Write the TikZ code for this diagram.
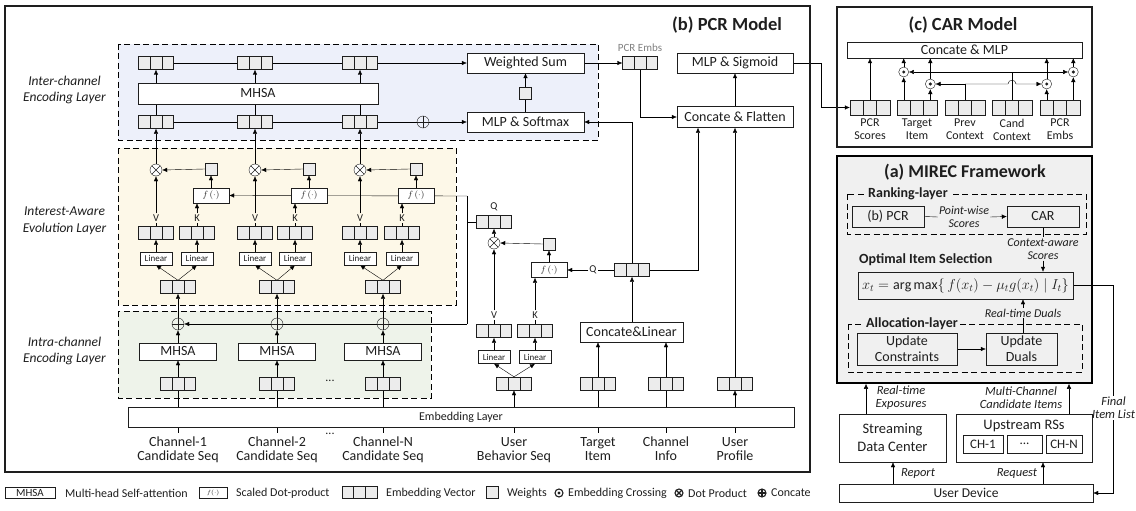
\documentclass[tikz,border=0pt]{standalone}
\usepackage{fontspec}
\setmainfont{Carlito}
\usetikzlibrary{calc,arrows.meta}
\definecolor{vecgray}{RGB}{236,236,236}
\definecolor{interbg}{RGB}{237,240,250}
\definecolor{evobg}{RGB}{253,248,232}
\definecolor{intrabg}{RGB}{238,243,234}
\definecolor{mirecbg}{RGB}{240,240,240}
\definecolor{linec}{RGB}{30,30,30}
\pgfdeclarelayer{bg}\pgfdeclarelayer{lines}\pgfsetlayers{bg,lines,main}
\newcommand{\fsz}[2]{\fontsize{#1}{#2}\selectfont}
\begin{document}
\begin{tikzpicture}[x=1pt,y=-1pt,line width=0.9pt,color=linec,
 >={Latex[length=5pt,width=4.5pt]},
 vec/.style={draw,fill=vecgray,minimum width=35pt,minimum height=13pt,inner sep=0pt,
  path picture={\draw ($(path picture bounding box.south west)!1/3!(path picture bounding box.south east)$) -- ($(path picture bounding box.north west)!1/3!(path picture bounding box.north east)$)
   ($(path picture bounding box.south west)!2/3!(path picture bounding box.south east)$) -- ($(path picture bounding box.north west)!2/3!(path picture bounding box.north east)$);}},
 cvec/.style={vec,minimum width=40pt,minimum height=15pt},
 wsq/.style={draw,fill=vecgray,minimum size=12pt,inner sep=0pt},
 fbox/.style={draw,fill=white,minimum width=36pt,minimum height=15pt,inner sep=0pt,font=\fsz{9}{10}},
 linbox/.style={draw,fill=white,minimum width=32pt,minimum height=13pt,inner sep=0pt,font=\fsz{9}{10}},
 box/.style={draw,fill=white,inner sep=0pt,font=\fsz{14}{16}},
 oplus/.style={circle,draw,minimum size=12pt,inner sep=0pt,path picture={\draw (path picture bounding box.north)--(path picture bounding box.south) (path picture bounding box.west)--(path picture bounding box.east);}},
 otimes/.style={circle,draw,fill=white,minimum size=12pt,inner sep=0pt,path picture={\draw (path picture bounding box.north west)--(path picture bounding box.south east) (path picture bounding box.south west)--(path picture bounding box.north east);}},
 odot/.style={circle,draw,fill=white,minimum size=10pt,inner sep=0pt,path picture={\fill[linec] (path picture bounding box.center) circle (1.7pt);}},
 lbl/.style={inner sep=1pt,font=\fsz{10.5}{11}},
 region/.style={draw,dash pattern=on 6pt off 3.5pt,line width=0.9pt},
 itl/.style={font=\itshape\fsz{12.5}{13},align=center,inner sep=1pt},
 leg/.style={anchor=west,inner sep=0pt,font=\fsz{12}{13}}
]
\useasboundingbox (0,0) rectangle (1136,511);

% ---------- backgrounds ----------
\begin{pgfonlayer}{bg}
\node[draw,fill=mirecbg,line width=1.6pt,minimum width=255pt,minimum height=227pt,inner sep=0pt] (mirec) at (964.5,269.5) {};
\draw[region,fill=interbg] (118,44) rectangle (598,140);
\draw[region,fill=evobg] (118,148) rectangle (456,305);
\draw[region,fill=intrabg] (118,311) rectangle (431,398);
\draw[region] (847,194) rectangle (1086,234);
\draw[region] (848,324) rectangle (1082,372);
\end{pgfonlayer}

\node[draw,line width=1.6pt,minimum width=805pt,minimum height=466pt,inner sep=0pt] (pcr) at (407.5,239) {};
\node[draw,line width=1.6pt,minimum width=255pt,minimum height=140pt,inner sep=0pt] (carbox) at (964.5,77) {};
\node[anchor=west,inner sep=0pt,font=\bfseries\fsz{18.5}{20}] (tpcr) at (672,25) {(b) PCR Model};
\node[inner sep=0pt,font=\bfseries\fsz{18.5}{20}] (tcar) at (963,25) {(c) CAR Model};
\node[inner sep=0pt,font=\bfseries\fsz{18}{20}] (tmir) at (965,172) {(a) MIREC Framework};

% ---------- left labels ----------
\node[font=\itshape\fsz{13.5}{16.5},align=center] (L1) at (64.5,90) {Inter-channel\\Encoding Layer};
\node[font=\itshape\fsz{13.5}{16.5},align=center] (L2) at (64.5,221) {Interest-Aware\\Evolution Layer};
\node[font=\itshape\fsz{13.5}{16.5},align=center] (L3) at (64.5,351) {Intra-channel\\Encoding Layer};

% ---------- inter-channel layer ----------
\foreach \i/\v in {1/156,2/255,3/360}{
  \node[vec] (t\i) at (\v,63) {};
  \node[vec] (b\i) at (\v,122) {};
}
\node[box,minimum width=240pt,minimum height=21pt] (mhsaI) at (258,93.5) {MHSA};
\node[box,minimum width=117pt,minimum height=20pt] (ws) at (525.5,63) {Weighted Sum};
\node[box,minimum width=117pt,minimum height=20pt] (mlpsm) at (525.5,122) {MLP \& Softmax};
\node[wsq] (wI) at (525.5,93) {};
\node[oplus] (opI) at (423,122) {};

% ---------- channel columns ----------
\foreach \i/\c/\v/\k/\f in {1/178/156/197/211,2/277/255/295/309,3/383/360/402/416}{
  \node[otimes] (ot\i) at (\v,170) {};
  \node[wsq] (sq\i) at (\f,169) {};
  \node[fbox] (f\i) at (\f,195.5) {$f\,(\cdot)$};
  \node[lbl] (Vl\i) at (\v,218) {V};
  \node[lbl] (Kl\i) at (\k,218) {K};
  \node[vec] (Vv\i) at (\v,233) {};
  \node[vec] (Kv\i) at (\k,233) {};
  \node[linbox] (Lv\i) at (\v,258.5) {Linear};
  \node[linbox] (Lk\i) at (\k,258.5) {Linear};
  \node[vec] (cv\i) at (\c,287) {};
  \node[oplus] (op\i) at (\c,324) {};
  \node[box,minimum width=77pt,minimum height=17pt] (mh\i) at (\c,351.5) {MHSA};
  \node[vec] (ev\i) at (\c,383.5) {};
}
\node[font=\fsz{12}{12}] (dots1) at (330,381) {...};

% ---------- user behaviour ----------
\node[vec] (qU) at (494,222) {};
\node[lbl] (qUl) at (494,207) {Q};
\node[otimes] (otU) at (494,243) {};
\node[wsq] (sqU) at (549,244) {};
\node[fbox] (fU) at (549,270) {$f\,(\cdot)$};
\node[lbl] (VlU) at (494,315) {V};
\node[lbl] (KlU) at (535,315) {K};
\node[vec] (VvU) at (494,331) {};
\node[vec] (KvU) at (535,331) {};
\node[linbox] (LvU) at (494,357) {Linear};
\node[linbox] (LkU) at (535,357) {Linear};
\node[vec] (bvU) at (514,383.5) {};

\node[vec] (qR) at (632,270) {};
\node[lbl] (qRl) at (593,270) {Q};
\node[box,minimum width=103pt,minimum height=20pt] (cl) at (631.5,332) {Concate\&Linear};
\node[vec] (pe) at (640,63) {};
\node[inner sep=0pt,font=\fsz{11}{12},text=gray] (pel) at (640,48) {PCR Embs};
\node[box,minimum width=116pt,minimum height=21pt] (cf) at (735,117) {Concate \& Flatten};
\node[box,minimum width=116pt,minimum height=20pt] (ms) at (735,63) {MLP \& Sigmoid};
\node[vec] (tv) at (598,383.5) {};
\node[vec] (civ) at (666,383.5) {};
\node[vec] (upv) at (735,383.5) {};

\node[draw,fill=white,minimum width=666pt,minimum height=20pt,inner sep=0pt,font=\fsz{12}{13}] (emb) at (461,417) {Embedding Layer};

\foreach \n/\x/\t in {lab1/178/{Channel-1\\Candidate Seq},lab2/277/{Channel-2\\Candidate Seq},lab3/383/{Channel-N\\Candidate Seq},lab4/514/{User\\Behavior Seq},lab5/598/{Target\\Item},lab6/666/{Channel\\Info},lab7/735/{User\\Profile}}{
  \node[align=center,anchor=north,inner sep=0pt,font=\fsz{14}{14}] (\n) at (\x,437) {\t};
}
\node[font=\fsz{12}{12}] (dots2) at (330,434) {...};

% ---------- CAR ----------
\node[draw,minimum width=235pt,minimum height=16pt,inner sep=0pt,font=\fsz{14}{15}] (cm) at (964.5,50) {Concate \& MLP};
\foreach \n/\x/\t in {ps/870/{PCR\\Scores},ti/917/{Target\\Item},pc/965/{Prev\\Context},cc/1012/{Cand\\Context},pb/1060/{PCR\\Embs}}{
  \node[cvec] (\n) at (\x,107.5) {};
  \node[font=\fsz{12}{12.5},align=center,anchor=north,inner sep=0pt] (\n l) at (\x,119) {\t};
}
\node[odot] (d1) at (903.7,72) {};
\node[odot] (d2) at (930.3,84) {};
\node[odot] (d3) at (1046.7,84) {};
\node[odot] (d4) at (1073.3,72) {};

% ---------- MIREC ----------
\node[anchor=west,fill=mirecbg,inner sep=2pt,font=\bfseries\fsz{14}{15}] (rl) at (866,194) {Ranking-layer};
\node[box,fill=mirecbg,minimum width=72pt,minimum height=21pt] (bpcr) at (888,216.5) {(b) PCR};
\node[box,fill=mirecbg,minimum width=72pt,minimum height=21pt] (car) at (1043,216.5) {CAR};
\node[itl,font=\itshape\fsz{12}{13}] (pws) at (964,217) {Point-wise\\Scores};
\node[itl,font=\itshape\fsz{12}{13}] (cas) at (1043,249) {Context-aware\\Scores};
\node[anchor=west,inner sep=0pt,font=\bfseries\fsz{14}{15}] (ois) at (859,260) {Optimal Item Selection};
\node[box,fill=mirecbg,minimum width=215pt,minimum height=27pt] (fm) at (965.5,285.5) {$x_t = \arg\max\{\, f(x_t) - \mu_t g(x_t) \mid I_t \}$};
\node[itl,font=\itshape\fsz{12}{13}] (rtd) at (1023,313) {Real-time Duals};
\node[anchor=west,fill=mirecbg,inner sep=2pt,font=\bfseries\fsz{14}{15}] (al) at (864,324) {Allocation-layer};
\node[box,fill=mirecbg,align=center,minimum width=100pt,minimum height=32pt] (uc) at (907,349) {Update\\Constraints};
\node[box,fill=mirecbg,align=center,minimum width=71pt,minimum height=32pt] (ud) at (1021.5,349) {Update\\Duals};

\node[draw,fill=white,align=center,minimum width=107pt,minimum height=48pt,inner sep=0pt,font=\fsz{14.5}{18}] (sdc) at (892.5,438) {Streaming\\Data Center};
\node[draw,fill=white,minimum width=136pt,minimum height=48pt,inner sep=0pt] (urs) at (1024,438) {};
\node[inner sep=0pt,font=\fsz{14.5}{15}] (ursl) at (1024,426) {Upstream RSs};
\node[draw,minimum width=40pt,minimum height=18pt,inner sep=0pt,font=\fsz{13}{14}] (ch1) at (983,444) {CH-1};
\node[draw,minimum width=35pt,minimum height=18pt,inner sep=0pt,font=\fsz{13}{14}] (chd) at (1024.5,444) {...};
\node[draw,minimum width=36pt,minimum height=18pt,inner sep=0pt,font=\fsz{13}{14}] (chn) at (1064,444) {CH-N};
\node[draw,fill=white,minimum width=254pt,minimum height=18pt,inner sep=0pt,font=\fsz{13.5}{14}] (udev) at (966,493) {User Device};
\node[itl] (rep) at (918,473) {Report};
\node[itl] (req) at (1017,473) {Request};
\node[itl] (rte) at (901,398) {Real-time\\Exposures};
\node[itl] (mcc) at (1021,398) {Multi-Channel\\Candidate Items};
\node[itl] (fil) at (1113.5,408) {Final\\Item List};

% ---------- legend ----------
\node[draw,minimum width=50pt,minimum height=11pt,inner sep=0pt,font=\fsz{11}{12}] (lg1) at (30,492.5) {MHSA};
\node[leg] (lt1) at (65,493) {Multi-head Self-attention};
\node[draw,minimum width=28pt,minimum height=11pt,inner sep=0pt,font=\fsz{6}{7}] (lg2) at (213,492.5) {$f(\cdot)$};
\node[leg] (lt2) at (236,493) {Scaled Dot-product};
\node[vec,minimum height=12pt] (lg3) at (359.5,492.5) {};
\node[leg] (lt3) at (386,493) {Embedding Vector};
\node[wsq] (lg4) at (492,492.5) {};
\node[leg] (lt4) at (507,493) {Weights};
\node[odot,minimum size=8pt,line width=1.1pt] (lg5) at (559,493) {};
\node[leg] (lt5) at (568,493) {Embedding Crossing};
\node[otimes,minimum size=8pt,line width=1.1pt] (lg6) at (679,493) {};
\node[leg] (lt6) at (688,493) {Dot Product};
\node[oplus,minimum size=8pt,line width=1.1pt] (lg7) at (762,493) {};
\node[leg] (lt7) at (771,493) {Concate};

% ---------- connectors ----------
\coordinate (j1) at (467,196);
\coordinate (j2) at (467,324);
\coordinate (j3) at (467,222);
\coordinate (cfq) at ([xshift=-37pt]cf.south);
\coordinate (k1) at (821,107.5);
\coordinate (k2) at (1113.5,285.5);
\begin{pgfonlayer}{lines}
\draw[->] (t1.east) -- (ws.west);
\draw (b1.east) -- (opI.west);
\draw[->] (opI.east) -- (mlpsm.west);
\foreach \i in {1,2,3}{
  \draw[->] (mhsaI.north -| t\i) -- (t\i.south);
  \draw (b\i.north) -- (b\i.north |- mhsaI.south);
  \draw[->] (ot\i.north) -- (b\i.south);
  \draw[->] (sq\i.west) -- (ot\i.east);
  \draw[->] (f\i.north) -- (sq\i.south);
  \draw (Vv\i.north) -- (Vl\i.south);
  \draw[->] (Vl\i.north) -- (ot\i.south);
  \draw (Kv\i.north) -- (Kl\i.south);
  \draw[->] (Kl\i.north) -- (f\i.south -| Kl\i);
  \draw[->] (Lv\i.north) -- (Vv\i.south);
  \draw[->] (Lk\i.north) -- (Kv\i.south);
  \draw[->] (cv\i.north) -- (Lv\i.south);
  \draw[->] (cv\i.north) -- (Lk\i.south);
  \draw[->] (op\i.north) -- (cv\i.south);
  \draw[->] (mh\i.north) -- (op\i.south);
  \draw[->] (ev\i.north) -- (mh\i.south);
  \draw (ev\i.south) -- (ev\i.south |- emb.north);
}
\draw (mlpsm.north) -- (wI.south);
\draw[->] (wI.north) -- (ws.south);
\draw[->] (j1) -- (f1.east);
\draw (j1) -- (j2);
\draw[->] (j2) -- (op1.east);
\draw (qU.west) -- (j3);
% user behaviour
\draw[->] (otU.north) -- (qU.south);
\draw[->] (sqU.west) -- (otU.east);
\draw[->] (fU.north) -- (sqU.south);
\draw (VvU.north) -- (VlU.south);
\draw[->] (VlU.north) -- (otU.south);
\draw (KvU.north) -- (KlU.south);
\draw[->] (KlU.north) -- (fU.south -| KlU);
\draw[->] (LvU.north) -- (VvU.south);
\draw[->] (LkU.north) -- (KvU.south);
\draw[->] (bvU.north) -- (LvU.south);
\draw[->] (bvU.north) -- (LkU.south);
\draw[->] (emb.north -| bvU) -- (bvU.south);
\draw (qR.west) -- (qRl.east);
\draw[->] (qRl.west) -- (fU.east);
\draw[->] (cl.north -| qR) -- (qR.south);
\draw[->] (qR.north) |- (mlpsm.east);
\draw[->] (qR.east) -| (cfq);
\draw[->] (ws.east) -- (pe.west);
\draw[->] (pe.south) |- (cf.west);
\draw[->] (cf.north) -- (ms.south);
\draw[->] (tv.north) -- (tv.north |- cl.south);
\draw[->] (civ.north) -- (civ.north |- cl.south);
\draw[->] (upv.north) -- (upv.north |- cf.south);
\draw (tv.south) -- (tv.south |- emb.north);
\draw (civ.south) -- (civ.south |- emb.north);
\draw[->] (emb.north -| upv) -- (upv.south);
\foreach \n in {lab1,lab2,lab3,lab4,lab5,lab6,lab7}{
  \draw (\n.north |- emb.south) -- ([yshift=4pt]\n.north);
}
% CAR
\draw[->] (ms.east) -| (k1) -- (ps.west);
\draw[->] (ps.north) -- (ps.north |- cm.south);
\foreach \d/\v in {d1/ti,d2/ti,d3/pb,d4/pb}{
  \draw[->] (\v.north -| \d) -- (\d.south);
  \draw[->] (\d.north) -- (\d.north |- cm.south);
}
\draw (pc.north) -- (pc.north |- d2);
\draw[->] (pc.north |- d2) -- (d2.east);
\coordinate (h1) at ($(cc.north |- d2)+(-4,0)$);
\coordinate (h2) at ($(cc.north |- d2)+(4,0)$);
\draw[->] (pc.north |- d2) -- (h1) .. controls ($(h1)+(0,-5)$) and ($(h2)+(0,-5)$) .. (h2) -- (d3.west);
\draw (cc.north) -- (cc.north |- d1);
\draw[->] (cc.north |- d1) -- (d1.east);
\draw[->] (cc.north |- d1) -- (d4.west);
% MIREC
\draw (bpcr.east) -- (pws.west);
\draw[->] (pws.east) -- (car.west);
\draw (car.south) -- (cas.north);
\draw[->] (cas.south) -- (cas.south |- fm.north);
\draw (ud.north -| rtd) -- (rtd.south);
\draw[->] (rtd.north) -- (rtd.north |- fm.south);
\draw[->] (uc.east) -- (ud.west);
\draw (fm.east) -- (k2) -- (fil.north);
\draw[->] (fil.south) |- (udev.east);
\draw[->] ([xshift=-73pt]udev.north) -- ([xshift=-73pt]udev.north |- sdc.south);
\draw[->] ([xshift=77pt]udev.north) -- ([xshift=77pt]udev.north |- urs.south);
\draw[->] ([xshift=-26.5pt]sdc.north) -- ([xshift=-26.5pt]sdc.north |- mirec.south);
\draw[->] ([xshift=45pt]urs.north) -- ([xshift=45pt]urs.north |- mirec.south);
\end{pgfonlayer}
\end{tikzpicture}
\end{document}
